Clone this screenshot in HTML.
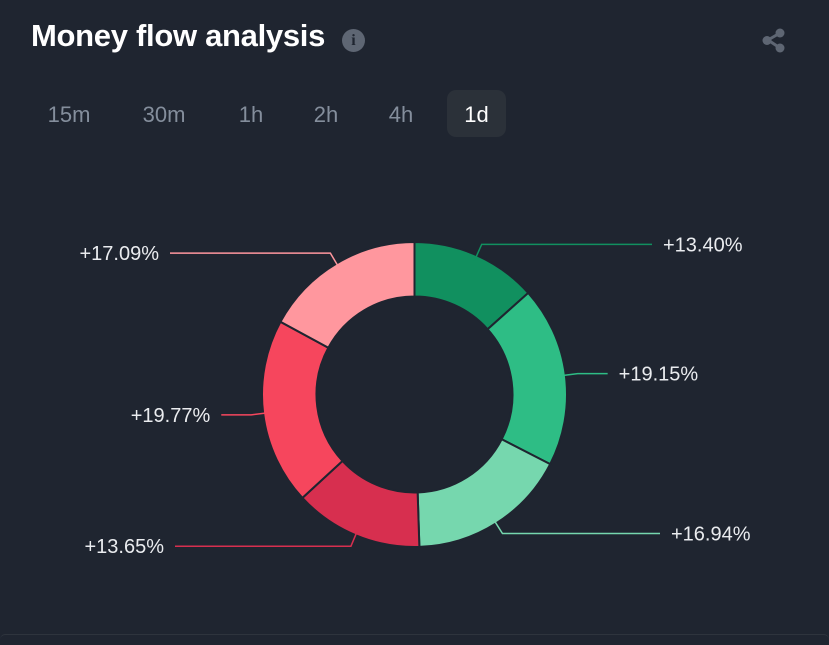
<!DOCTYPE html>
<html><head><meta charset="utf-8"><style>
body{margin:0;width:829px;height:640px;background:#1f2530;font-family:"Liberation Sans",sans-serif;overflow:hidden;position:relative}
.title{position:absolute;left:31px;top:18px;font-size:31px;font-weight:bold;color:#fff;letter-spacing:-0.3px}
.info{position:absolute;left:342px;top:29px;width:23px;height:23px;border-radius:50%;background:#5e6673;color:#1f2530;font-size:16px;font-weight:bold;text-align:center;line-height:23px;font-family:"Liberation Serif",serif}
.tab{position:absolute;top:90px;height:47px;line-height:50px;font-size:22px;color:#848e9c;text-align:center}
.tab.active{background:#2b3139;color:#fff;border-radius:9px}
</style></head><body>
<div class="title">Money flow analysis</div>
<div class="info">i</div>
<svg style="position:absolute;left:760px;top:27px" width="28" height="28" viewBox="0 0 28 28">
<line x1="20" y1="6" x2="8" y2="13" stroke="#5e6673" stroke-width="3"/><line x1="8" y1="13" x2="20" y2="21" stroke="#5e6673" stroke-width="3"/>
<circle cx="20" cy="6" r="4.5" fill="#5e6673"/><circle cx="7" cy="13.5" r="4.5" fill="#5e6673"/><circle cx="20" cy="21" r="4.5" fill="#5e6673"/></svg>
<div class="tab" style="left:38px;width:62px">15m</div>
<div class="tab" style="left:132px;width:64px">30m</div>
<div class="tab" style="left:228px;width:46px">1h</div>
<div class="tab" style="left:303px;width:46px">2h</div>
<div class="tab" style="left:378px;width:46px">4h</div>
<div class="tab active" style="left:447px;width:59px">1d</div>
<div style="position:absolute;left:0;right:0;top:634px;height:10px;border-top:1px solid #2e343d;border-radius:8px"></div>
<svg id="chart" style="position:absolute;left:0;top:0" width="829" height="640"></svg>
<script>
const categories=["in-large","in-medium","in-small","out-small","out-medium","out-large"];
const values=[13.40,19.15,16.94,13.65,19.77,17.09];
const labels=["+13.40%","+19.15%","+16.94%","+13.65%","+19.77%","+17.09%"];
const colors=["#11905f","#2ebd85","#76d7ae","#d72f4f","#f6465d","#ff979e"];
const svg=document.getElementById('chart');
const NS="http://www.w3.org/2000/svg";
const cx=414.5,cy=394.5,R=152.5,r0=98;
const total=values.reduce((a,b)=>a+b,0);
function pt(a,rad){return [cx+rad*Math.sin(a),cy-rad*Math.cos(a)];}
let acc=0;
values.forEach((v,i)=>{
  const a0=acc/total*2*Math.PI; acc+=v; const a1=acc/total*2*Math.PI;
  const large=(a1-a0)>Math.PI?1:0;
  const [x1,y1]=pt(a0,R),[x2,y2]=pt(a1,R),[x3,y3]=pt(a1,r0),[x4,y4]=pt(a0,r0);
  const p=document.createElementNS(NS,'path');
  p.setAttribute('d',`M${x1},${y1}A${R},${R} 0 ${large} 1 ${x2},${y2}L${x3},${y3}A${r0},${r0} 0 ${large} 0 ${x4},${y4}Z`);
  p.setAttribute('fill',colors[i]);p.setAttribute('stroke','#1f2530');p.setAttribute('stroke-width','2');
  
  
  svg.appendChild(p);
  const am=(a0+a1)/2;
  const [sx,sy]=pt(am,R-6),[ex,ey]=pt(am,R+12);
  const right=Math.sin(am)>=0;
  const lower=Math.cos(am)<0;
  const hx=Math.abs(Math.sin(am))>0.9?ex+(right?30:-30):(right?(lower?660:652):(lower?175:170));
  const l=document.createElementNS(NS,'polyline');
  l.setAttribute('points',`${sx},${sy} ${ex},${ey} ${hx},${ey}`);
  l.setAttribute('fill','none');l.setAttribute('stroke',colors[i]);l.setAttribute('stroke-width','1.5');
  
  
  svg.appendChild(l);
  const t=document.createElementNS(NS,'text');
  t.setAttribute('x',right?hx+11:hx-11);t.setAttribute('y',ey+7);
  t.setAttribute('text-anchor',right?'start':'end');
  t.setAttribute('fill','#eaecef');t.setAttribute('font-size','20');
  t.setAttribute('font-family','Liberation Sans, sans-serif');
  t.textContent=labels[i];
  
  
  svg.appendChild(t);
});
</script>
</body></html>
